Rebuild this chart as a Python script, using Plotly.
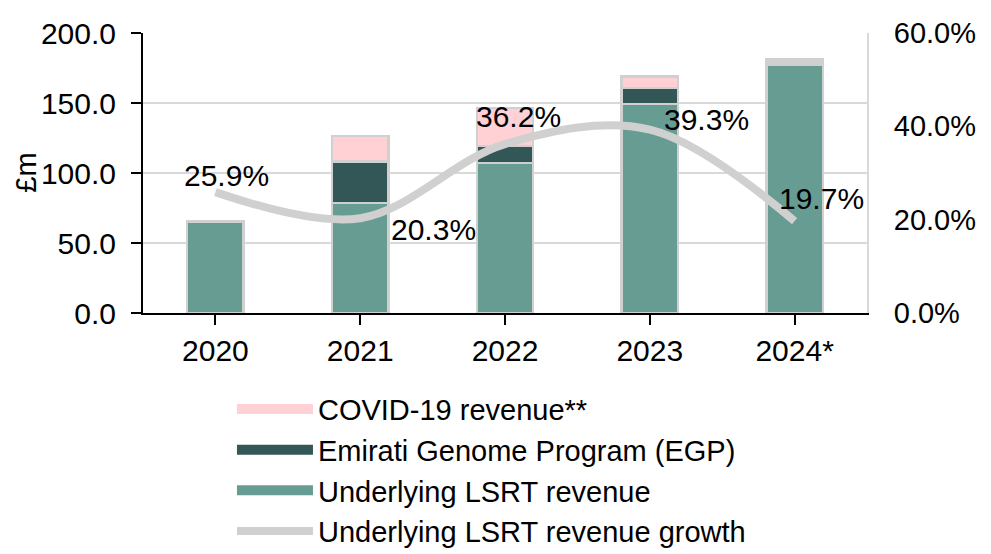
import plotly.graph_objects as go

# revenue split, £m
years = ['2020', '2021', '2022', '2023', '2024*']
underlying = [65.3, 78.4, 107.0, 149.2, 177.5]
egp = [0, 29.8, 12.4, 11.5, 2.0]
covid = [0, 18.4, 27.0, 8.3, 2.0]

# underlying LSRT revenue growth, %
growth = [25.9, 20.3, 36.2, 39.3, 19.7]
growth_labels = ['25.9%', '20.3%', '36.2%', '39.3%', '19.7%']

# label nudges (px) so the labels sit where the original puts them
label_dx = [11, 73, 13, 57, 27]
label_dy = [17, -11, 28, 10, 23]

font = 'Liberation Sans, Arial, sans-serif'
border = dict(color='#d0d0d0', width=2.5)

fig = go.Figure()
fig.add_trace(go.Bar(x=years, y=underlying, name='Underlying LSRT revenue',
                     marker=dict(color='#669c92', line=border), showlegend=False))
fig.add_trace(go.Bar(x=years, y=egp, name='Emirati Genome Program (EGP)',
                     marker=dict(color='#335756', line=border), showlegend=False))
fig.add_trace(go.Bar(x=years, y=covid, name='COVID-19 revenue**',
                     marker=dict(color='#ffd1d5', line=border), showlegend=False))
fig.add_trace(go.Scatter(x=years, y=growth, yaxis='y2', mode='lines',
                         name='Underlying LSRT revenue growth',
                         line=dict(color='#d0d0d0', width=8, shape='spline', smoothing=1.0),
                         legendrank=4))

# wide legend swatches like the original (legend-only entries)
swatches = [('COVID-19 revenue**', '#ffd1d5', 1),
            ('Emirati Genome Program (EGP)', '#335756', 2),
            ('Underlying LSRT revenue', '#669c92', 3)]
for name, col, rank in swatches:
    fig.add_trace(go.Scatter(x=[None], y=[None], mode='lines', name=name,
                             line=dict(color=col, width=16), legendrank=rank))

# category index, so '2020' is not read as a number
for i, (g, t) in enumerate(zip(growth, growth_labels)):
    fig.add_annotation(x=i, y=g, yref='y2', text=t, showarrow=False,
                       xshift=label_dx[i], yshift=label_dy[i],
                       font=dict(size=30, color='black', family=font))

# axis title as an annotation (plotly misplaces it without automargin)
fig.add_annotation(x=-0.162, y=0.5, xref='paper', yref='paper', text='£m',
                   textangle=-90, showarrow=False, xanchor='center', yanchor='middle',
                   font=dict(size=29, color='black', family=font))

fig.update_layout(
    width=991, height=554,
    margin=dict(l=135, r=132, t=25, b=249, autoexpand=False),
    paper_bgcolor='white', plot_bgcolor='white',
    font=dict(family=font, color='black', size=29),
    barmode='stack', bargap=0.61,
    showlegend=True,
    legend=dict(xref='container', yref='container', x=0.226, y=0.322,
                xanchor='left', yanchor='top', traceorder='normal',
                font=dict(size=29), itemwidth=76, tracegroupgap=0,
                bgcolor='rgba(0,0,0,0)'),
    xaxis=dict(type='category', range=[-0.5, 4.5], showline=True,
               linecolor='black', linewidth=2,
               ticks='outside', ticklen=10, tickcolor='black', tickwidth=2,
               tickfont=dict(size=30), showgrid=False, automargin=False),
    yaxis=dict(range=[0, 200], dtick=50, tickformat='.1f',
               showline=True, linecolor='black', linewidth=2,
               ticks='outside', ticklen=10, tickcolor='black', tickwidth=2,
               ticklabelstandoff=9,
               showgrid=True, gridcolor='#d9d9d9', gridwidth=2,
               tickfont=dict(size=30), zeroline=False, automargin=False),
    yaxis2=dict(range=[0, 60], dtick=20, tickformat='.1f', ticksuffix='%',
                overlaying='y', side='right', showgrid=False, zeroline=False,
                showline=True, linecolor='#d9d9d9', linewidth=2,
                ticks='outside', ticklen=19, tickcolor='rgba(0,0,0,0)',
                tickfont=dict(size=29), automargin=False),
)

fig.write_html('out.html')
